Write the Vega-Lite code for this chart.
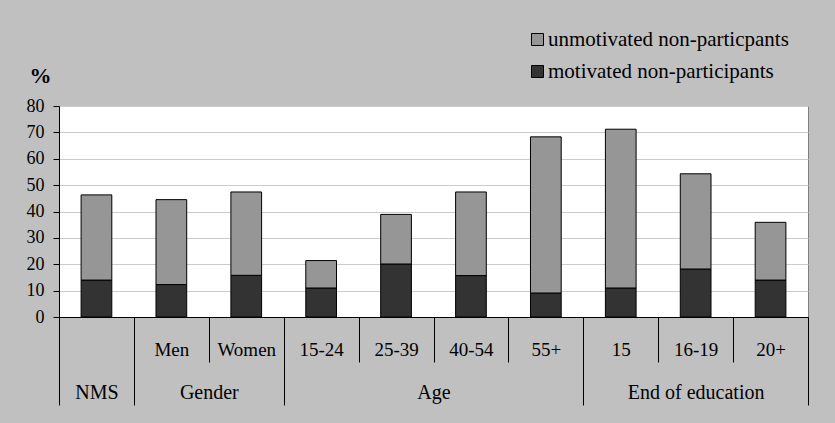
{
  "$schema": "https://vega.github.io/schema/vega-lite/v6.json",
  "width": 749,
  "height": 211,
  "autosize": "none",
  "padding": {"left": 59, "top": 106, "right": 27, "bottom": 106},
  "background": "#c0c0c0",
  "config": {
    "font": "Liberation Serif",
    "view": {"stroke": "#808080", "strokeWidth": 1, "fill": "white"}
  },
  "layer": [
    {
      "data": {
        "values": [
          {"category": "NMS", "series": "motivated non-participants", "value": 14},
          {"category": "NMS", "series": "unmotivated non-particpants", "value": 32.3},
          {"category": "Men", "series": "motivated non-participants", "value": 12.3},
          {"category": "Men", "series": "unmotivated non-particpants", "value": 32.2},
          {"category": "Women", "series": "motivated non-participants", "value": 15.8},
          {"category": "Women", "series": "unmotivated non-particpants", "value": 31.6},
          {"category": "15-24", "series": "motivated non-participants", "value": 11},
          {"category": "15-24", "series": "unmotivated non-particpants", "value": 10.4},
          {"category": "25-39", "series": "motivated non-participants", "value": 20.1},
          {"category": "25-39", "series": "unmotivated non-particpants", "value": 18.8},
          {"category": "40-54", "series": "motivated non-participants", "value": 15.7},
          {"category": "40-54", "series": "unmotivated non-particpants", "value": 31.7},
          {"category": "55+", "series": "motivated non-participants", "value": 9.1},
          {"category": "55+", "series": "unmotivated non-particpants", "value": 59.2},
          {"category": "15", "series": "motivated non-participants", "value": 11},
          {"category": "15", "series": "unmotivated non-particpants", "value": 60.2},
          {"category": "16-19", "series": "motivated non-participants", "value": 18.2},
          {"category": "16-19", "series": "unmotivated non-particpants", "value": 36.1},
          {"category": "20+", "series": "motivated non-participants", "value": 14},
          {"category": "20+", "series": "unmotivated non-particpants", "value": 21.9}
        ]
      },
      "mark": {"type": "bar", "stroke": "black", "strokeWidth": 1, "width": {"band": 0.41}},
      "encoding": {
        "x": {
          "field": "category",
          "type": "nominal",
          "sort": null,
          "scale": {"paddingInner": 0, "paddingOuter": 0},
          "axis": {
            "title": null,
            "orient": "bottom",
            "tickBand": "extent",
            "tickSize": 45,
            "tickColor": "black",
            "domainColor": "black",
            "labelAngle": 0,
            "labelFont": "Liberation Serif",
            "labelFontSize": 19,
            "labelColor": "black",
            "labelBaseline": "middle",
            "labelPadding": -13,
            "labelOverlap": false,
            "labelExpr": "datum.value == 'NMS' ? '' : datum.value",
            "grid": false
          }
        },
        "y": {
          "field": "value",
          "type": "quantitative",
          "stack": "zero",
          "scale": {"domain": [0, 80], "nice": false},
          "axis": {
            "values": [0, 10, 20, 30, 40, 50, 60, 70, 80],
            "title": "%",
            "titleFont": "Liberation Serif",
            "titleAngle": 0,
            "titleFontSize": 22,
            "titleFontWeight": "bold",
            "titleColor": "black",
            "titleX": -19,
            "titleY": -31,
            "titleAlign": "center",
            "titleBaseline": "middle",
            "tickSize": 6,
            "tickColor": "black",
            "domainColor": "black",
            "labelFont": "Liberation Serif",
            "labelFontSize": 18,
            "labelColor": "black",
            "labelPadding": 9,
            "gridColor": "#cccccc",
            "gridWidth": 1
          }
        },
        "color": {
          "field": "series",
          "type": "nominal",
          "scale": {
            "domain": ["unmotivated non-particpants", "motivated non-participants"],
            "range": ["#969696", "#333333"]
          },
          "legend": {
            "title": null,
            "orient": "none",
            "legendX": 468,
            "legendY": -77,
            "padding": 0,
            "symbolType": "square",
            "symbolSize": 144,
            "symbolStrokeColor": "black",
            "symbolStrokeWidth": 1,
            "symbolOpacity": 1,
            "labelFont": "Liberation Serif",
            "labelFontSize": 21,
            "labelColor": "black",
            "labelLimit": 400,
            "labelOffset": 0,
            "rowPadding": 10
          }
        },
        "order": {"field": "series", "sort": "ascending"}
      }
    },
    {
      "data": {
        "values": [
          {"group": "NMS", "start": 0, "end": 1},
          {"group": "Gender", "start": 1, "end": 3},
          {"group": "Age", "start": 3, "end": 7},
          {"group": "End of education", "start": 7, "end": 10}
        ]
      },
      "mark": {"type": "rect", "opacity": 0},
      "encoding": {
        "x": {
          "field": "start",
          "type": "quantitative",
          "scale": {"domain": [0, 10], "nice": false, "zero": false},
          "axis": {
            "title": null,
            "orient": "bottom",
            "values": [0, 1, 3, 7, 10, 0.5, 2, 5, 8.5],
            "domain": false,
            "grid": false,
            "tickSize": 88,
            "tickColor": "black",
            "tickOpacity": {"condition": {"test": "indexof([0,1,3,7,10], datum.value) >= 0", "value": 1}, "value": 0},
            "labelExpr": "datum.value == 0.5 ? 'NMS' : datum.value == 2 ? 'Gender' : datum.value == 5 ? 'Age' : datum.value == 8.5 ? 'End of education' : ''",
            "labelFont": "Liberation Serif",
            "labelFontSize": 20,
            "labelColor": "black",
            "labelBaseline": "middle",
            "labelPadding": -13,
            "labelOverlap": false,
            "labelFlush": false,
            "labelAngle": 0
          }
        },
        "x2": {"field": "end"}
      }
    }
  ],
  "resolve": {"scale": {"x": "independent"}, "axis": {"x": "independent"}}
}
